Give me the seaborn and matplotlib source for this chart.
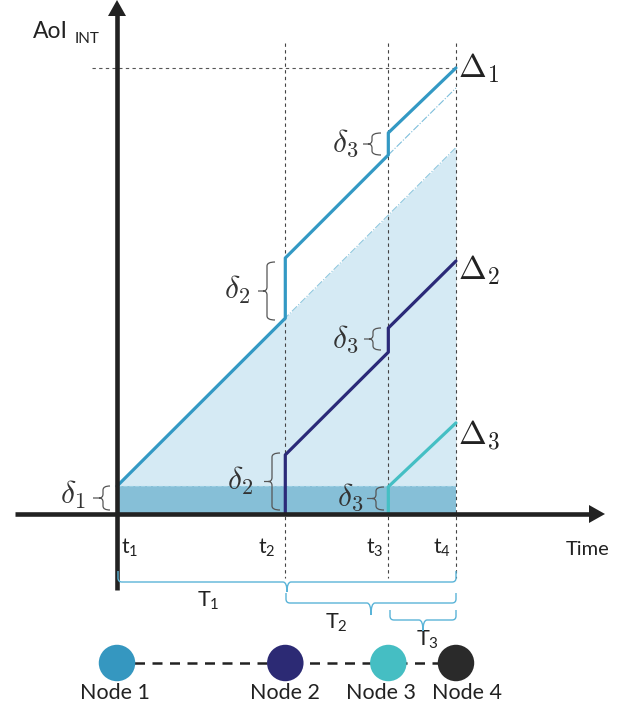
import matplotlib
matplotlib.use("Agg")
import matplotlib.pyplot as plt
import numpy as np
import pandas as pd
import seaborn as sns
from matplotlib.path import Path
from matplotlib.patches import PathPatch, Polygon

sns.set_theme(style="white")
plt.rcParams["font.family"] = ["Lato", "DejaVu Sans"]
plt.rcParams["mathtext.fontset"] = "cm"

# ---------------- data (time units / AoI units) ----------------
t_names = ["t_1", "t_2", "t_3", "t_4"]
t_times = [0.0, 4.95, 7.98, 9.97]

node_names = ["Node 1", "Node 2", "Node 3", "Node 4"]
node_colors = ["#3597C0", "#2C2A74", "#45BEC3", "#2A2A2A"]

node1_time = [0.0, 4.95, 4.95, 7.98, 7.98, 9.97]
node1_aoi = [0.82, 5.76, 7.53, 10.56, 11.21, 13.12]
node2_time = [4.95, 4.95, 7.98, 7.98, 9.97]
node2_aoi = [0.0, 1.74, 4.76, 5.47, 7.44]
node3_time = [7.98, 7.98, 9.97]
node3_aoi = [0.0, 0.80, 2.68]

region_time = [0.0, 9.97]
region_top = [0.82, 10.78]
band_top = [0.82, 0.82]
ghost_time = [7.98, 9.97]
ghost_aoi = [10.56, 12.53]

# ---------------- layout helpers (pixel -> data) ----------------
W, H = 634, 715
PX = 34.0
OX, OY = 117, 514
def X(px):
    return (px - OX) / PX
def Y(py):
    return (OY - py) / PX

fig = plt.figure(figsize=(W / 100, H / 100), dpi=100)
ax = fig.add_axes([0, 0, 1, 1])
ax.set_xlim(X(0), X(W))
ax.set_ylim(Y(H), Y(0))
ax.axis("off")

light = "#D5EAF4"
dark = "#86BFD7"
ax.fill_between(region_time, band_top, region_top, color=light, lw=0, zorder=1)
ax.fill_between(region_time, [0, 0], band_top, color=dark, lw=0, zorder=1)
ax.plot(region_time, region_top, color="#8CC6DE", lw=0.8, ls="-.", zorder=2)
ax.plot(region_time, band_top, color="#9CCFE3", lw=0.8, ls="--", zorder=2)
ax.plot(ghost_time, ghost_aoi, color="#7DBEDB", lw=0.8, ls="-.", zorder=2)

# dashed guides
for tt in t_times[1:]:
    ax.plot([tt, tt], [Y(43), Y(578)], color="#444444", lw=0.8, ls=(0, (3, 3)), zorder=2)
ax.plot([X(92), t_times[3]], [node1_aoi[-1], node1_aoi[-1]], color="#555555",
        lw=0.8, ls=(0, (3, 3)), zorder=2)

# node lines
df = pd.concat([
    pd.DataFrame({"time": node1_time, "aoi": node1_aoi, "node": "Node 1"}),
    pd.DataFrame({"time": node2_time, "aoi": node2_aoi, "node": "Node 2"}),
    pd.DataFrame({"time": node3_time, "aoi": node3_aoi, "node": "Node 3"}),
])
sns.lineplot(data=df, x="time", y="aoi", hue="node", sort=False, estimator=None,
             palette={"Node 1": "#3399C4", "Node 2": "#2B2A78", "Node 3": "#45BFC4"},
             linewidth=2.3, legend=False, ax=ax, zorder=4)
ax.set_xlabel("")
ax.set_ylabel("")
ax.set_xlim(X(0), X(W))
ax.set_ylim(Y(H), Y(0))

# axes with arrows
axc = "#222222"
ax.plot([X(117), X(117)], [Y(590), Y(14)], color=axc, lw=3.3, solid_capstyle="butt", zorder=5)
ax.add_patch(Polygon([[X(117), Y(0)], [X(108), Y(16)], [X(126), Y(16)]], closed=True,
                     color=axc, lw=0, zorder=5))
ax.plot([X(15), X(590)], [Y(514), Y(514)], color=axc, lw=3.3, solid_capstyle="butt", zorder=5)
ax.add_patch(Polygon([[X(605), Y(514)], [X(589), Y(505)], [X(589), Y(523)]], closed=True,
                     color=axc, lw=0, zorder=5))

ax.text(X(33), Y(38), "AoI", fontsize=16.5, color="#222222", ha="left", va="baseline")
ax.text(X(75), Y(43), "INT", fontsize=11, color="#222222", ha="left", va="baseline")
ax.text(X(566), Y(555), "Time", fontsize=14.5, color="#222222", ha="left", va="baseline")

t_lab_px = [121, 258, 366, 433]
for name, px in zip(t_names, t_lab_px):
    ax.text(X(px), Y(554), r"$\mathregular{" + name + "}$", fontsize=15,
            color="#222222", ha="left", va="baseline")

# Delta labels
for lab, yy, py in [(r"$\Delta_1$", node1_aoi[-1], 77), (r"$\Delta_2$", node2_aoi[-1], 279),
                    (r"$\Delta_3$", node3_aoi[-1], 444)]:
    ax.text(X(458), Y(py), lab, fontsize=24, color="#222222", ha="left", va="baseline")

# curly braces
def vbrace(xr, y0, y1, xv, xt, color="#555555", r=4):
    ym = (y0 + y1) / 2
    pts = [(xr, y0), (xv, y0), (xv, y0 + r), (xv, ym - r), (xv, ym), (xv - 4, ym), (xt, ym),
           (xv - 4, ym), (xv, ym), (xv, ym + r), (xv, y1 - r), (xv, y1), (xr, y1)]
    codes = [Path.MOVETO, Path.CURVE3, Path.CURVE3, Path.LINETO, Path.CURVE3, Path.CURVE3,
             Path.LINETO, Path.MOVETO, Path.CURVE3, Path.CURVE3, Path.LINETO, Path.CURVE3,
             Path.CURVE3]
    verts = [(X(a), Y(b)) for a, b in pts]
    ax.add_patch(PathPatch(Path(verts, codes), fc="none", ec=color, lw=0.9, zorder=6))

def hbrace(xa, xb, xc, yline, ytop, tip, color="#5AB4D8", r=4):
    pts = [(xa, ytop), (xa, yline - r), (xa, yline), (xa + r, yline), (xc - r, yline),
           (xc, yline), (xc, tip), (xc, yline), (xc + r, yline), (xb - r, yline),
           (xb, yline), (xb, yline - r), (xb, ytop)]
    codes = [Path.MOVETO, Path.LINETO, Path.CURVE3, Path.CURVE3, Path.LINETO, Path.CURVE3,
             Path.CURVE3, Path.CURVE3, Path.CURVE3, Path.LINETO, Path.CURVE3, Path.CURVE3,
             Path.LINETO]
    verts = [(X(a), Y(b)) for a, b in pts]
    ax.add_patch(PathPatch(Path(verts, codes), fc="none", ec=color, lw=1.0, zorder=6))

# delta braces: (hook x, top y, bottom y, vertical x, tip x, label, label right x, label y)
dbraces = [
    (110, 486, 510, 103, 93, r"$\delta_1$", 86, 504),
    (275, 262, 320, 267, 258, r"$\delta_2$", 250, 299),
    (381, 133, 155, 372, 363, r"$\delta_3$", 358, 152),
    (381, 328, 350, 373, 364, r"$\delta_3$", 358, 348),
    (280, 453, 510, 272, 264, r"$\delta_2$", 253, 490),
    (384, 487, 510, 376, 367, r"$\delta_3$", 363, 506),
]
for xr, y0, y1, xv, xt, lab, lx, ly in dbraces:
    vbrace(xr, y0, y1, xv, xt)
    ax.text(X(lx), Y(ly), lab, fontsize=23, color="#333333", ha="right", va="baseline")

# period braces
hbrace(118, 456, 287, 582, 571, 592)
hbrace(286, 456, 371, 603, 593, 615)
hbrace(390, 456, 423, 620, 610, 631)
ax.text(X(208), Y(607), r"$\mathregular{T_1}$", fontsize=15.5, color="#222222", ha="center", va="baseline")
ax.text(X(336), Y(629), r"$\mathregular{T_2}$", fontsize=15.5, color="#222222", ha="center", va="baseline")
ax.text(X(427), Y(646), r"$\mathregular{T_3}$", fontsize=15.5, color="#222222", ha="center", va="baseline")

# nodes
node_y = Y(663)
ax.plot([t_times[0], t_times[3]], [node_y, node_y], color="#222222", lw=1.8,
        ls=(0, (4, 3)), zorder=6)
nodes_df = pd.DataFrame({"time": t_times, "y": [node_y] * 4, "node": node_names})
sns.scatterplot(data=nodes_df, x="time", y="y", hue="node",
                palette=dict(zip(node_names, node_colors)), s=690, linewidth=0,
                legend=False, ax=ax, zorder=7)
ax.set_xlabel("")
ax.set_ylabel("")
ax.set_xlim(X(0), X(W))
ax.set_ylim(Y(H), Y(0))

node_lab_px = [115, 285, 381, 467]
for name, px in zip(node_names, node_lab_px):
    ax.text(X(px), Y(699), name, fontsize=15.5, color="#222222", ha="center", va="baseline")

fig.savefig("out.png", dpi=100)
